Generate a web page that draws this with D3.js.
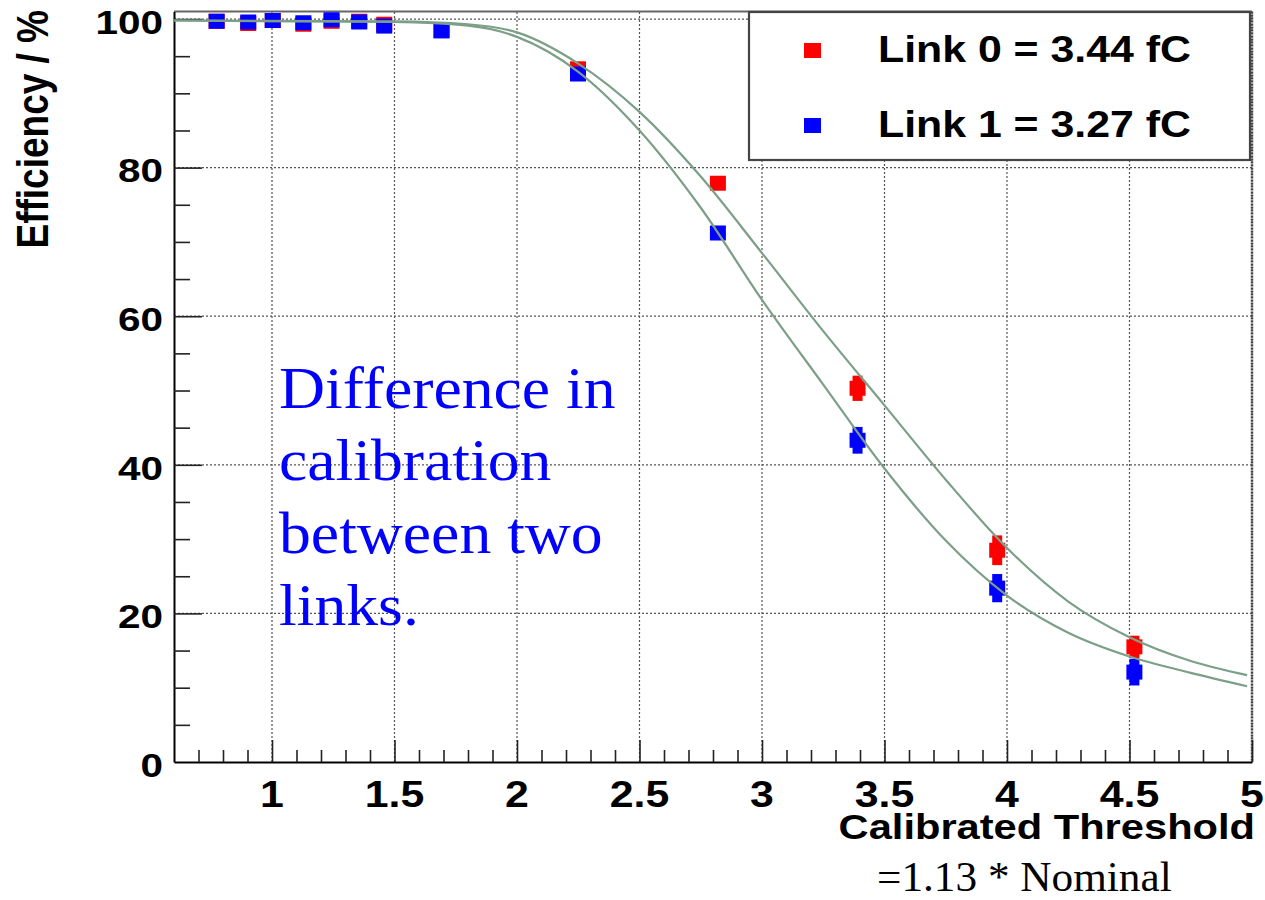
<!DOCTYPE html>
<html><head><meta charset="utf-8">
<script src="https://cdn.jsdelivr.net/npm/d3@7"></script>
<style>html,body{margin:0;padding:0;background:#fff;}svg{display:block;}</style>
</head><body>
<script>
// ---- data ----
const thresholds = [0.774,0.903,1.003,1.128,1.243,1.356,1.458,1.692,2.249,2.82,3.39,3.96,4.52];
const link0Eff = [99.7,99.4,99.8,99.3,99.7,99.7,99.3,98.5,93.3,77.9,50.3,28.5,15.5];
const link1Eff = [99.7,99.6,99.8,99.5,99.9,99.6,99.05,98.4,92.6,71.2,43.3,23.4,12.1];
const link0Err = [0.3,0.3,0.3,0.3,0.3,0.3,0.3,0.4,0.5,0.6,1.7,2.0,1.5];
const link1Err = [0.3,0.3,0.3,0.3,0.3,0.3,0.3,0.4,0.5,0.6,1.8,1.9,1.8];
const fit0X = [0.6,1.5,1.8,2.0,2.25,2.5,2.75,3.0,3.25,3.5,3.75,4.0,4.25,4.5,4.75,4.98];
const fit0Y = [99.8,99.7,99.3,98.2,94.0,87.5,78.8,68.5,58.0,48.0,38.0,28.8,21.6,16.8,13.6,11.7];
const fit1X = [0.6,1.5,1.8,2.0,2.25,2.5,2.75,3.0,3.25,3.5,3.75,4.0,4.25,4.5,4.75,4.98];
const fit1Y = [99.8,99.6,99.1,97.6,92.9,85.0,74.6,62.2,50.8,39.5,29.8,22.4,17.4,14.2,12.0,10.2];
const xMajorTicks = [1,1.5,2,2.5,3,3.5,4,4.5,5];
const xTickLabels = ["1","1.5","2","2.5","3","3.5","4","4.5","5"];
const yMajorTicks = [0,20,40,60,80,100];
const yTickLabels = ["0","20","40","60","80","100"];
const legendLabels = ["Link 0 = 3.44 fC","Link 1 = 3.27 fC"];
const noteLines = ["Difference in","calibration","between two","links."];

const W = 1265, H = 900;
const SX = 1.19; // horizontal stretch of sans text
const svg = d3.select("body").append("svg").attr("width",W).attr("height",H);
const x = d3.scaleLinear().domain([0.6,5]).range([174,1252]);
const y = d3.scaleLinear().domain([0,101]).range([762,11.6]);
const sans = "'Liberation Sans', Arial, Helvetica, sans-serif";
const serif = "'Liberation Serif', 'Times New Roman', serif";

// grid
const grid = svg.append("g").attr("stroke","#555").attr("stroke-width",1.2).attr("stroke-dasharray","2,2");
grid.selectAll("line.gx").data(xMajorTicks).join("line")
  .attr("x1",d=>x(d)).attr("x2",d=>x(d)).attr("y1",y(0)).attr("y2",y(101));
grid.selectAll("line.gy").data(yMajorTicks.filter(d=>d>0)).join("line")
  .attr("x1",x(0.6)).attr("x2",x(5)).attr("y1",d=>y(d)).attr("y2",d=>y(d));

// frame top/right
svg.append("line").attr("x1",x(0.6)).attr("x2",x(5)).attr("y1",y(101)).attr("y2",y(101)).attr("stroke","#666").attr("stroke-width",2);
svg.append("line").attr("x1",x(5)).attr("x2",x(5)).attr("y1",y(101)).attr("y2",y(0)).attr("stroke","#444").attr("stroke-width",2.5).attr("stroke-dasharray","2,1");

// axes
const xAxis = d3.axisBottom(x).tickValues(d3.range(0.7,5.0001,0.1).map(v=>+v.toFixed(1))).tickSize(0).tickFormat("");
const gx = svg.append("g").attr("transform",`translate(0,${y(0)})`);
gx.call(xAxis);
gx.select(".domain").attr("stroke","#000").attr("stroke-width",2);
gx.selectAll(".tick line").attr("y2",d=>(Math.abs(d*2-Math.round(d*2))<1e-6)?-22:-12).attr("stroke","#222").attr("stroke-width",1.6);
const xl = svg.append("g");
xMajorTicks.forEach((t,i)=>{
  xl.append("text").attr("transform",`translate(${x(t)},807) scale(${SX},1)`)
    .attr("text-anchor","middle").attr("font-family",sans).attr("font-weight","bold").attr("font-size",36)
    .text(xTickLabels[i]);
});

const yAxis = d3.axisLeft(y).tickValues(d3.range(5,101,5)).tickSize(0).tickFormat("");
const gy = svg.append("g").attr("transform",`translate(${x(0.6)},0)`);
gy.call(yAxis);
gy.select(".domain").attr("stroke","#000").attr("stroke-width",2);
gy.selectAll(".tick line").attr("x2",d=>(d%20===0)?28:16).attr("stroke","#222").attr("stroke-width",1.6);
yMajorTicks.forEach((t,i)=>{
  svg.append("text").attr("transform",`translate(163,${y(t)+3}) scale(${SX},1)`)
    .attr("text-anchor","end").attr("dominant-baseline","central")
    .attr("font-family",sans).attr("font-weight","bold").attr("font-size",34)
    .text(yTickLabels[i]);
});

// axis titles
svg.append("text").attr("transform",`translate(1255,839) scale(${SX},1)`)
  .attr("text-anchor","end").attr("font-family",sans).attr("font-weight","bold").attr("font-size",35)
  .text("Calibrated Threshold");
svg.append("text").attr("transform",`translate(48,10) scale(${SX},1) rotate(-90)`)
  .attr("text-anchor","end").attr("font-family",sans).attr("font-weight","bold").attr("font-size",37)
  .text("Efficiency / %");
svg.append("text").attr("transform","translate(877,891) scale(1.03,1)").attr("font-family",serif).attr("font-size",42)
  .text("=1.13 * Nominal");

// note text
const note = svg.append("text").attr("transform","translate(279,0) scale(1.08,1)")
  .attr("font-family",serif).attr("font-size",59).attr("fill","#0000ff");
noteLines.forEach((s,i)=>{
  note.append("tspan").attr("x",0).attr("y",408+i*72.5).text(s);
});

// points
const clipId = "plotclip";
svg.append("clipPath").attr("id",clipId).append("rect")
  .attr("x",x(0.6)).attr("y",y(101)).attr("width",x(5)-x(0.6)).attr("height",y(0)-y(101));

function drawSeries(vals, errs, color){
  const g = svg.append("g");
  thresholds.forEach((t,i)=>{
    g.append("line").attr("x1",x(t)).attr("x2",x(t))
      .attr("y1",y(vals[i]-errs[i])).attr("y2",y(vals[i]+errs[i]))
      .attr("stroke",color).attr("stroke-width",10);
    g.append("rect").attr("x",x(t)-8).attr("y",y(vals[i])-7.5).attr("width",16).attr("height",15).attr("fill",color);
  });
}
drawSeries(link0Eff, link0Err, "#ff0000");
drawSeries(link1Eff, link1Err, "#0000ff");

// fits
const line = d3.line().x(d=>x(d[0])).y(d=>y(d[1])).curve(d3.curveMonotoneX);
const fits = svg.append("g").attr("clip-path",`url(#${clipId})`).attr("fill","none").attr("stroke","#7c9f88").attr("stroke-width",2.2);
fits.append("path").attr("d",line(fit0X.map((v,i)=>[v,fit0Y[i]])));
fits.append("path").attr("d",line(fit1X.map((v,i)=>[v,fit1Y[i]])));

// legend
const lg = svg.append("g");
lg.append("rect").attr("x",749).attr("y",12).attr("width",501).attr("height",148)
  .attr("fill","#fff").attr("stroke","#444").attr("stroke-width",2.2);
const legColors = ["#ff0000","#0000ff"];
legendLabels.forEach((s,i)=>{
  lg.append("rect").attr("x",804).attr("y",43+i*75).attr("width",17).attr("height",15).attr("fill",legColors[i]);
  lg.append("text").attr("transform",`translate(878,${62+i*75}) scale(${SX},1)`)
    .attr("font-family",sans).attr("font-weight","bold").attr("font-size",36).text(s);
});
</script>
</body></html>
